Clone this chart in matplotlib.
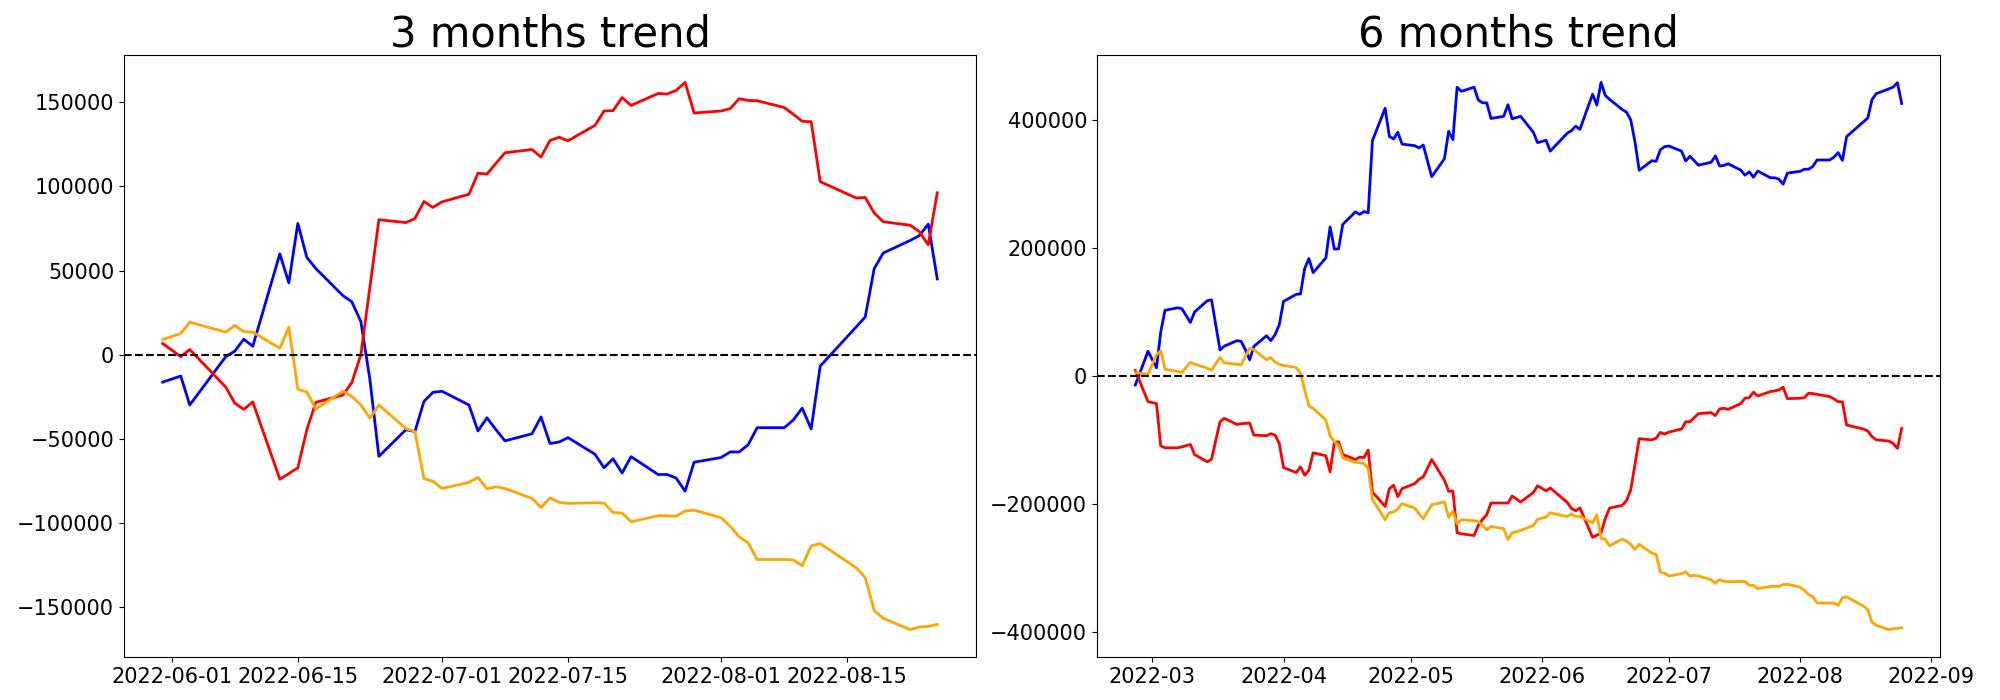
import matplotlib
matplotlib.use("Agg")
import matplotlib.pyplot as plt
import matplotlib.dates as mdates
import pandas as pd

# KRX trading days (weekdays minus market holidays)
holidays = ["2022-03-01", "2022-03-09", "2022-05-05", "2022-06-01", "2022-06-06", "2022-08-15"]
days_6m = [d for d in pd.bdate_range("2022-02-25", "2022-08-25") if d.strftime("%Y-%m-%d") not in holidays]
days_3m = [d for d in days_6m if d >= pd.Timestamp("2022-05-31")]

# ---- 3 months trend (thousands) ----
blue_3m = [-16.3, -12.7, -29.9, -1.2, 2.1, 9.2, 5.0, 59.9, 42.7, 78.0, 57.8, 51.2, 35.1, 31.4, 19.6,
           -14.6, -60.4, -44.6, -45.7, -27.8, -22.4, -21.7, -29.9, -45.3, -37.5, -44.6, -51.2, -47.0,
           -37.0, -52.8, -51.9, -49.3, -59.2, -67.2, -61.8, -70.3, -60.6, -71.2, -71.2, -73.3, -81.1,
           -63.9, -61.1, -57.8, -57.8, -53.5, -43.4, -43.4, -38.9, -31.8, -44.1, -6.8, 16.5, 22.4,
           51.2, 60.4, 67.9, 70.7, 77.6, 45.0]
red_3m = [6.6, -1.2, 3.1, -19.3, -28.8, -32.5, -28.1, -74.0, -70.7, -67.2, -44.6, -28.3, -24.0, -16.5,
          0.0, 40.0, 80.2, 78.5, 80.9, 91.0, 87.5, 90.8, 95.3, 107.8, 107.3, 113.7, 120.0, 121.9, 117.4,
          127.3, 129.2, 127.1, 136.3, 144.8, 145.0, 152.8, 148.1, 155.2, 154.9, 157.0, 161.8, 143.6,
          144.8, 146.2, 152.1, 151.1, 150.9, 146.9, 142.9, 138.7, 138.4, 102.8, 93.1, 93.4, 84.2, 79.0,
          76.9, 73.1, 65.3, 96.2]
orange_3m = [9.0, 12.5, 19.3, 13.4, 17.4, 13.7, 13.4, 3.8, 16.3, -20.5, -22.2, -32.3, -21.7, -24.8,
             -29.9, -37.7, -29.9, -43.9, -45.7, -73.6, -75.2, -79.5, -75.9, -72.9, -79.7, -78.5, -79.5,
             -85.4, -90.8, -85.1, -87.7, -88.4, -88.0, -88.2, -93.8, -94.1, -99.3, -95.7, -95.7, -96.0,
             -92.9, -92.4, -96.9, -101.9, -108.2, -111.8, -121.7, -121.7, -121.9, -125.4, -113.7,
             -112.2, -126.6, -132.5, -152.1, -156.6, -163.4, -161.8, -161.5, -160.3]

# ---- 6 months trend (thousands) ----
blue_6m = [-13.7, 39.0, 13.0, 69.0, 103.0, 107.0, 105.5, 84.0, 100.5, 118.0, 119.5, 80.0, 41.0, 47.0,
           55.5, 54.5, 41.3, 25.6, 46.6, 63.3, 55.5, 64.9, 80.6, 117.0, 128.0, 128.5, 168.5, 184.0,
           162.0, 185.0, 233.5, 199.0, 199.0, 237.5, 257.0, 253.0, 257.5, 255.5, 368.5, 419.0, 375.0,
           371.0, 381.5, 363.0, 360.5, 357.0, 361.5, 312.0, 340.0, 383.0, 370.0, 452.0, 445.5, 452.0,
           432.0, 427.5, 427.5, 403.0, 406.5, 424.5, 402.5, 404.5, 406.5, 381.5, 365.2,
           369.0, 352.0, 380.0, 384.0, 391.0, 386.0, 441.0, 424.0, 459.5, 439.0, 433.0, 417.0, 413.0,
           401.0, 367.0, 322.0, 337.0, 336.0, 354.0, 359.0, 360.0, 352.0, 336.5, 344.0, 337.0, 330.0,
           334.5, 344.5, 328.7, 329.6, 332.2, 322.3, 314.3, 319.7, 311.2, 320.9, 310.3, 310.3, 308.2,
           300.4, 317.6, 320.4, 323.7, 323.7, 328.0, 338.1, 338.1, 342.6, 349.7, 337.4, 374.7, 398.0,
           403.9, 432.7, 441.9, 449.4, 452.2, 459.1, 426.5]
red_6m = [8.9, -39.8, -42.9, -108.8, -112.0, -112.0, -110.4, -106.8, -122.5, -134.0, -129.8, -100.5,
          -71.2, -65.9, -75.4, -74.3, -73.8, -73.3, -92.1, -93.1, -90.0, -92.1, -105.2, -142.9, -150.7,
          -141.8, -154.9, -147.0, -119.8, -124.5, -149.7, -103.6, -102.6, -122.5, -130.3, -126.6,
          -127.2, -115.6, -181.1, -203.6, -175.8, -170.6, -188.4, -175.8, -168.0, -161.2, -157.5,
          -130.3, -162.7, -180.0, -179.5, -244.9, -246.5, -249.1, -233.4, -224.0, -216.6, -198.3,
          -198.3, -198.3, -187.3, -192.0, -196.8, -182.0, -171.4,
          -179.2, -174.9, -197.3, -206.8, -210.5, -206.1, -252.1, -248.7, -245.2, -222.6, -206.3,
          -202.0, -194.5, -178.0, -138.0, -97.8, -99.5, -97.1, -87.9, -90.5, -87.4, -82.7, -71.2,
          -71.2, -64.9, -58.6, -57.0, -61.7, -51.3, -50.2, -51.8, -42.9, -34.5, -33.5, -25.1, -30.9,
          -24.1, -23.0, -21.5, -17.3, -35.1, -34.5, -33.5, -26.7, -27.2, -28.3, -31.9, -35.6, -39.8,
          -40.3, -76.4, -82.7, -85.8, -94.7, -99.4, -101.5, -105.2, -113.0, -81.6]
orange_6m = [5.8, 3.1, 33.5, 39.8, 11.0, 7.3, 5.8, 21.5, 18.8, 12.6, 9.4, 19.4, 29.3, 20.9, 18.8, 17.8,
             30.9, 44.0, 41.3, 25.6, 29.3, 22.0, 18.8, 16.7, 13.6, 4.7, -21.5, -46.6, -50.2, -68.6,
             -93.1, -102.6, -107.8, -127.7, -135.0, -135.5, -136.6, -144.4, -192.6, -224.5, -213.5,
             -212.5, -207.2, -199.4, -206.2, -215.1, -222.9, -201.0, -196.8, -220.8, -211.4, -230.8,
             -224.5, -226.1, -227.1, -233.4, -240.2, -235.0, -238.6, -255.4, -244.9, -243.3, -241.2,
             -233.4, -224.0,
             -220.5, -213.7, -219.6, -215.6, -219.3, -219.6, -229.2, -216.7, -253.5, -255.2, -265.3,
             -254.7, -257.8, -262.9, -270.7, -262.9, -276.9, -278.7, -306.6, -308.2, -312.5, -308.9,
             -305.9, -312.7, -311.5, -312.5, -318.4, -323.8, -318.1, -320.7, -321.4, -321.0, -321.2,
             -326.8, -327.1, -332.3, -328.7, -328.7, -329.0, -325.9, -325.4, -329.9, -334.9, -341.2,
             -344.8, -354.7, -354.7, -354.9, -358.4, -346.7, -345.2, -359.6, -365.5, -385.1, -389.6,
             -396.4, -394.8, -394.5, -393.3]

titles = ["3 months trend", "6 months trend"]

fig = plt.figure(figsize=(20, 7), dpi=100)
ax1 = fig.add_axes([0.062, 0.0614, 0.426, 0.86])
ax2 = fig.add_axes([0.5485, 0.0614, 0.4215, 0.86])

panels = [
    (ax1, days_3m, blue_3m, red_3m, orange_3m, mdates.DayLocator(bymonthday=[1, 15]), "%Y-%m-%d"),
    (ax2, days_6m, blue_6m, red_6m, orange_6m, mdates.MonthLocator(), "%Y-%m"),
]
for (ax, days, b, r, o, loc, fmt), title in zip(panels, titles):
    ax.plot(days, [v * 1000 for v in b], color="blue", linewidth=2)
    ax.plot(days, [v * 1000 for v in r], color="red", linewidth=2)
    ax.plot(days, [v * 1000 for v in o], color="orange", linewidth=2)
    ax.axhline(0, color="black", linestyle="--", linewidth=1.5)
    ax.xaxis.set_major_locator(loc)
    ax.xaxis.set_major_formatter(mdates.DateFormatter(fmt))
    ax.tick_params(labelsize=15)
    ax.set_title(title, fontsize=30)

fig.savefig("out.png", dpi=100)
